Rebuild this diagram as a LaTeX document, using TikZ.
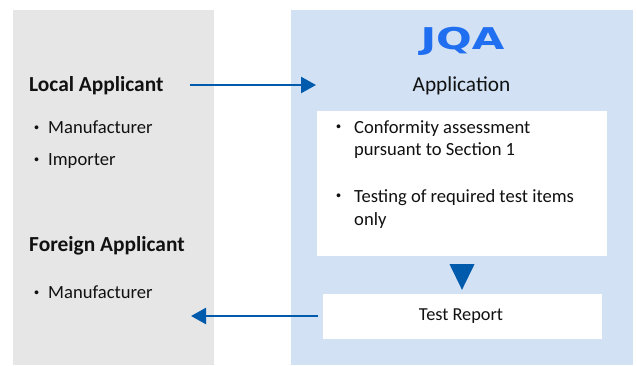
\documentclass[tikz,border=0pt]{standalone}
\usepackage{fontspec}
\setmainfont{Carlito}
\newfontfamily\cjkfont{Noto Sans CJK JP Bold}
\newfontfamily\logofont{DejaVu Sans}
\usepackage{tikz}
\usetikzlibrary{arrows.meta,shapes.geometric}
\definecolor{PanelGray}{HTML}{E6E6E6}
\definecolor{PanelBlue}{HTML}{D2E1F4}
\definecolor{FlowBlue}{HTML}{005BAC}
\definecolor{LogoBlue}{HTML}{1F6FF0}
\definecolor{TextBlack}{HTML}{111111}
\tikzset{panel/.style={rectangle, anchor=north west, inner sep=0pt, outer sep=0pt}}
\tikzset{head/.style={anchor=base west, inner sep=0pt, text=TextBlack, font=\fontsize{21.4}{24}\selectfont\bfseries}}
\tikzset{item/.style={anchor=base west, inner sep=0pt, text=TextBlack, font=\fontsize{18.6}{23}\selectfont}}
\tikzset{bullet/.style={anchor=base west, inner sep=0pt, text=TextBlack, font=\cjkfont\fontsize{15}{23}\selectfont}}
\tikzset{flow/.style={-{Triangle[length=15pt,width=16pt]}, draw=FlowBlue, line width=2.4pt}}

\begin{document}
\begin{tikzpicture}[x=1pt,y=-1pt]
	\useasboundingbox (0,0) rectangle (637,365);
	\node[panel, fill=PanelGray, minimum width=201pt, minimum height=355pt] (applicants) at (13,10){};
	\node[panel, fill=PanelBlue, minimum width=342pt, minimum height=355pt] (jqa) at (291,10){};
	\node[panel, fill=white, minimum width=290pt, minimum height=145pt] (assess) at (317,111){};
	\node[panel, fill=white, minimum width=279pt, minimum height=45pt] (report) at (323,294){};

	% left panel
	\node[head] (local) at (29,91){Local Applicant};
	\node[bullet] (dot1) at (29,133){・};
	\node[item] (manu1) at (48,133){Manufacturer};
	\node[bullet] (dot2) at (29,165){・};
	\node[item] (impo) at (48,165){Importer};
	\node[head] (foreign) at (29,251){Foreign Applicant};
	\node[bullet] (dot3) at (29,298){・};
	\node[item] (manu2) at (48,298){Manufacturer};

	% right panel
	\node[inner sep=0pt, text=LogoBlue] (logo) at (462.5,41){\scalebox{1.4}[1]{\logofont\fontsize{30}{30}\selectfont\bfseries JQA}};
	\node[inner sep=0pt, text=TextBlack, font=\fontsize{21.3}{24}\selectfont] (application) at (461.5,86){Application};
	\node[bullet] (dot4) at (331,132){・};
	\node[item] (conform1) at (354,133){Conformity assessment};
	\node[item] (conform2) at (354,155){pursuant to Section 1};
	\node[bullet] (dot5) at (331,201){・};
	\node[item] (testing1) at (354,202){Testing of required test items};
	\node[item] (testing2) at (354,225){only};
	\node[inner sep=0pt, text=TextBlack, font=\fontsize{18.3}{24}\selectfont] (rtext) at (461,316){Test Report};
	\node[isosceles triangle, isosceles triangle apex angle=52, shape border rotate=-90, fill=FlowBlue, inner sep=0pt, minimum size=25pt] (down) at (462,272){};

	% arrows
	\coordinate (fromlocal) at (190,85);
	\coordinate (toapp) at (316,85);
	\coordinate (toforeign) at (191,316);
	\draw[flow] (fromlocal) -- (toapp);
	\draw[flow] ([xshift=-5pt]report.west |- toforeign) -- (toforeign);
\end{tikzpicture}
\end{document}
